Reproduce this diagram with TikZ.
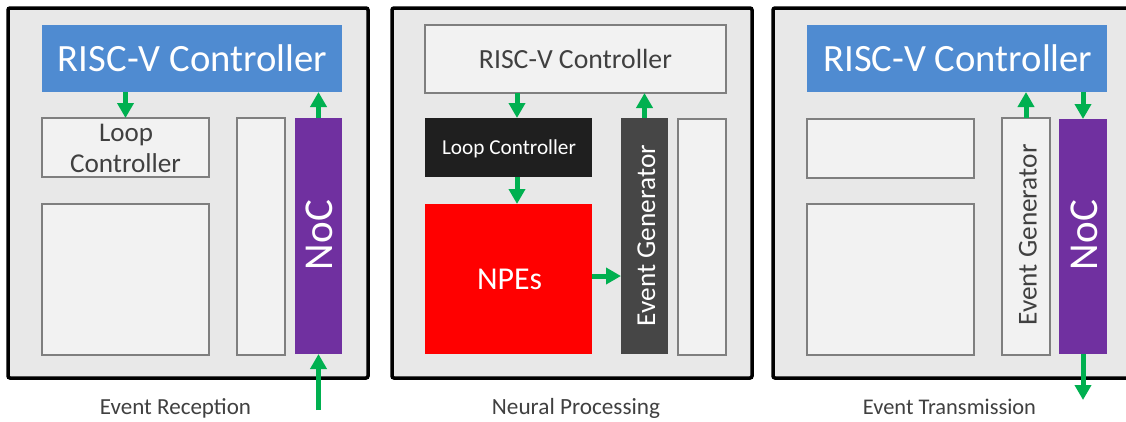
\documentclass[tikz,border=0pt]{standalone}
\usepackage{fontspec}
\setmainfont{Carlito}
\usetikzlibrary{arrows.meta}
\definecolor{panelbg}{HTML}{E8E8E8}
\definecolor{boxbg}{HTML}{F2F2F2}
\definecolor{boxline}{HTML}{7F7F7F}
\definecolor{rvblue}{HTML}{4F8BD1}
\definecolor{nocpurple}{HTML}{7030A0}
\definecolor{npered}{HTML}{FF0000}
\definecolor{loopblack}{HTML}{1F1F1F}
\definecolor{gendark}{HTML}{464646}
\definecolor{flowgreen}{HTML}{00B050}
\definecolor{txtgray}{HTML}{404040}
\newcommand\fitto[2]{\resizebox{#1pt}{!}{#2}}
\tikzset{
  panel/.style={draw=black, line width=3.5pt, fill=panelbg, rounded corners=2pt},
  blk/.style={rectangle, inner sep=0pt, outer sep=0pt, anchor=north west},
  lightblk/.style={blk, draw=boxline, line width=1.1pt, fill=boxbg},
  blueblk/.style={blk, fill=rvblue},
  purpleblk/.style={blk, fill=nocpurple},
  redblk/.style={blk, fill=npered},
  blackblk/.style={blk, fill=loopblack},
  darkblk/.style={blk, fill=gendark},
  txt/.style={inner sep=0pt, outer sep=0pt, anchor=base, text=txtgray},
  wtxt/.style={txt, text=white},
  flow/.style={draw=flowgreen, line width=5pt, -{Triangle[width=16pt,length=15pt]}},
}
\begin{document}
\begin{tikzpicture}[x=1pt,y=-1pt]
\useasboundingbox (0,0) rectangle (1126,421);
\clip (0,0) rectangle (1126,421);
\fill[white] (0,0) rectangle (1126,421);

% ---------------- Event reception ----------------
\draw[panel] (8,8) rectangle (368,378);
\node[blueblk, minimum width=300pt, minimum height=67pt] (rv1) at (42,25) {};
\node[lightblk, minimum width=167pt, minimum height=59pt] (lc1) at (42,118) {};
\node[lightblk, minimum width=167pt, minimum height=151pt] (pe1) at (42,204) {};
\node[lightblk, minimum width=48pt, minimum height=237pt] (eg1) at (237,118) {};
\node[purpleblk, minimum width=47pt, minimum height=236pt] (noc1) at (295,118) {};
\node[wtxt] (rv1t) at (192.5,71) {\fitto{269}{RISC-V Controller}};
\node[txt] (lc1ta) at (126,141) {\fitto{54}{Loop}};
\node[txt] (lc1tb) at (125.5,172) {\fitto{111}{Controller}};
\node[wtxt, rotate=90] (noc1t) at (332,235) {\fitto{70}{NoC}};
\node[txt] (cap1) at (175.5,414) {\fitto{151}{Event Reception}};
\coordinate (in1) at (318.5,410);
\draw[flow] (lc1.north |- rv1.south) -- (lc1.north);
\draw[flow] (noc1.north) -- (noc1.north |- rv1.south);
\draw[flow] (in1) -- (noc1.south);

% ---------------- Neural processing ----------------
\draw[panel] (392,8) rectangle (752,378);
\node[lightblk, minimum width=301pt, minimum height=68pt] (rv2) at (425,25) {};
\node[blackblk, minimum width=167pt, minimum height=59pt] (lc2) at (425,118) {};
\node[redblk, minimum width=167pt, minimum height=150pt] (npe) at (425,204) {};
\node[darkblk, minimum width=47pt, minimum height=236pt] (eg2) at (621,118) {};
\node[lightblk, minimum width=48pt, minimum height=236pt] (nc2) at (678,119) {};
\node[txt] (rv2t) at (575.5,68) {\fitto{193}{RISC-V Controller}};
\node[wtxt] (lc2t) at (509,154) {\fitto{134}{Loop Controller}};
\node[wtxt] (npet) at (509.5,289) {\fitto{65}{NPEs}};
\node[wtxt, rotate=90] (eg2t) at (655,235.5) {\fitto{181}{Event Generator}};
\node[txt] (cap2) at (576,414) {\fitto{168}{Neural Processing}};
\draw[flow] ([xshift=8.5pt]lc2.north |- rv2.south) -- ([xshift=8.5pt]lc2.north);
\draw[flow] ([xshift=8.5pt]lc2.south) -- ([xshift=8.5pt]lc2.south |- npe.north);
\draw[flow] (eg2.north) -- (eg2.north |- rv2.south);
\draw[flow] ([yshift=3pt]npe.east) -- ([yshift=3pt]npe.east -| eg2.west);

% ---------------- Event transmission ----------------
\draw[panel] (773,8) rectangle (1133,378);
\node[blueblk, minimum width=300pt, minimum height=67pt] (rv3) at (807,25) {};
\node[lightblk, minimum width=167pt, minimum height=59pt] (lc3) at (807,119) {};
\node[lightblk, minimum width=167pt, minimum height=151pt] (pe3) at (807,204) {};
\node[lightblk, minimum width=48pt, minimum height=237pt] (eg3) at (1002,118) {};
\node[purpleblk, minimum width=48pt, minimum height=235pt] (noc3) at (1059,119) {};
\node[wtxt] (rv3t) at (958,71) {\fitto{269}{RISC-V Controller}};
\node[txt, rotate=90] (eg3t) at (1036.5,235) {\fitto{181}{Event Generator}};
\node[wtxt, rotate=90] (noc3t) at (1097,235) {\fitto{70}{NoC}};
\node[txt] (cap3) at (949.5,414) {\fitto{173}{Event Transmission}};
\coordinate (out3) at (1083,400);
\draw[flow] (eg3.north) -- (eg3.north |- rv3.south);
\draw[flow] (noc3.north |- rv3.south) -- (noc3.north);
\draw[flow] (noc3.south) -- (out3);
\end{tikzpicture}
\end{document}
